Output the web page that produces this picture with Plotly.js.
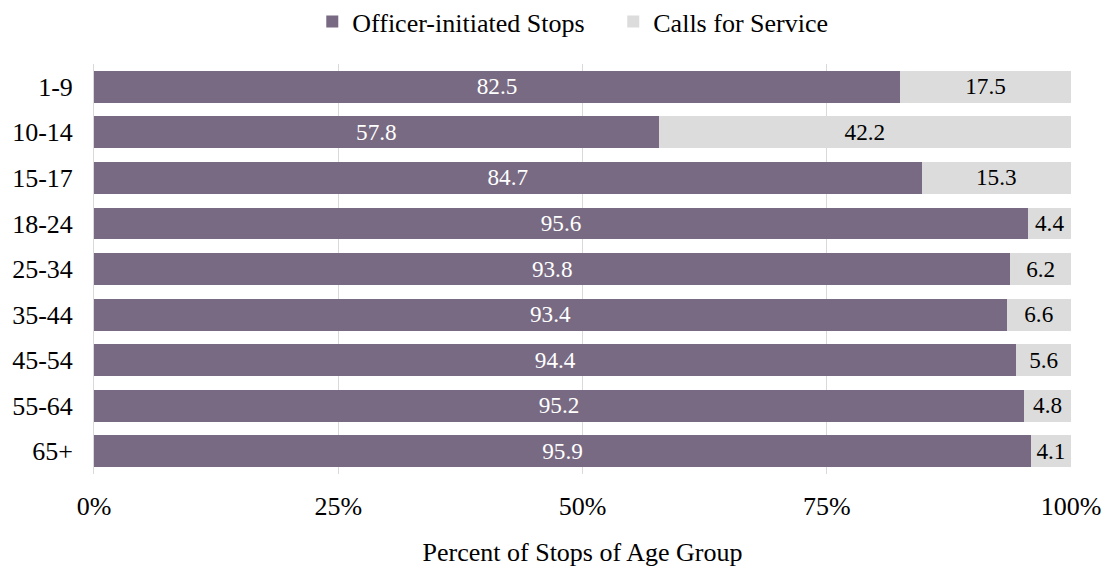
<!DOCTYPE html>
<html>
<head>
<meta charset="utf-8">
<script src="https://cdn.plot.ly/plotly-3.0.1.min.js"></script>
<style>body{margin:0;background:#fff}</style>
</head>
<body>
<div id="chart" style="width:1105px;height:568px"></div>
<script>
const ageGroups = ['1-9', '10-14', '15-17', '18-24', '25-34', '35-44', '45-54', '55-64', '65+'];
const officerStops = [82.5, 57.8, 84.7, 95.6, 93.8, 93.4, 94.4, 95.2, 95.9];
const callsForService = [17.5, 42.2, 15.3, 4.4, 6.2, 6.6, 5.6, 4.8, 4.1];

const font = '"Liberation Serif", "Times New Roman", serif';

const traces = [
    {
        type: 'bar',
        orientation: 'h',
        name: 'Officer-initiated Stops',
        y: ageGroups,
        x: officerStops,
        text: officerStops.map(v => v.toFixed(1)),
        textposition: 'inside',
        insidetextanchor: 'middle',
        textfont: { color: '#ffffff', size: 26, family: font },
        marker: { color: '#786a82' }
    },
    {
        type: 'bar',
        orientation: 'h',
        name: 'Calls for Service',
        y: ageGroups,
        x: callsForService,
        text: callsForService.map(v => v.toFixed(1)),
        textposition: 'inside',
        insidetextanchor: 'middle',
        textfont: { color: '#000000', size: 26, family: font },
        marker: { color: '#dcdcdc' }
    }
];

const layout = {
    width: 1105,
    height: 568,
    barmode: 'stack',
    bargap: 0.3,
    font: { family: font, size: 26, color: '#000' },
    margin: { l: 94, r: 34, t: 64, b: 94 },
    showlegend: true,
    legend: {
        orientation: 'h',
        x: 0.555, xanchor: 'center',
        xref: 'container',
        y: 0.962, yanchor: 'middle',
        yref: 'container',
        font: { size: 26 },
        itemwidth: 30,
        entrywidth: 256,
        entrywidthmode: 'pixels',
        traceorder: 'normal'
    },
    xaxis: {
        range: [0, 100],
        tickvals: [0, 25, 50, 75, 100],
        ticktext: ['0%', '25%', '50%', '75%', '100%'],
        showgrid: true,
        gridcolor: '#d9d9d9',
        zeroline: false,
        showline: false,
        ticks: '',
        ticklabelstandoff: 14,
        tickfont: { size: 26 },
        title: { text: 'Percent of Stops of Age Group', font: { size: 26 }, standoff: 22 }
    },
    yaxis: {
        autorange: 'reversed',
        showline: true,
        linecolor: '#d9d9d9',
        linewidth: 1,
        ticks: '',
        ticklabelstandoff: 15,
        tickfont: { size: 26 },
        showgrid: false
    },
    plot_bgcolor: '#fff',
    paper_bgcolor: '#fff'
};

Plotly.newPlot('chart', traces, layout, { displayModeBar: false, staticPlot: true });
</script>
</body>
</html>
